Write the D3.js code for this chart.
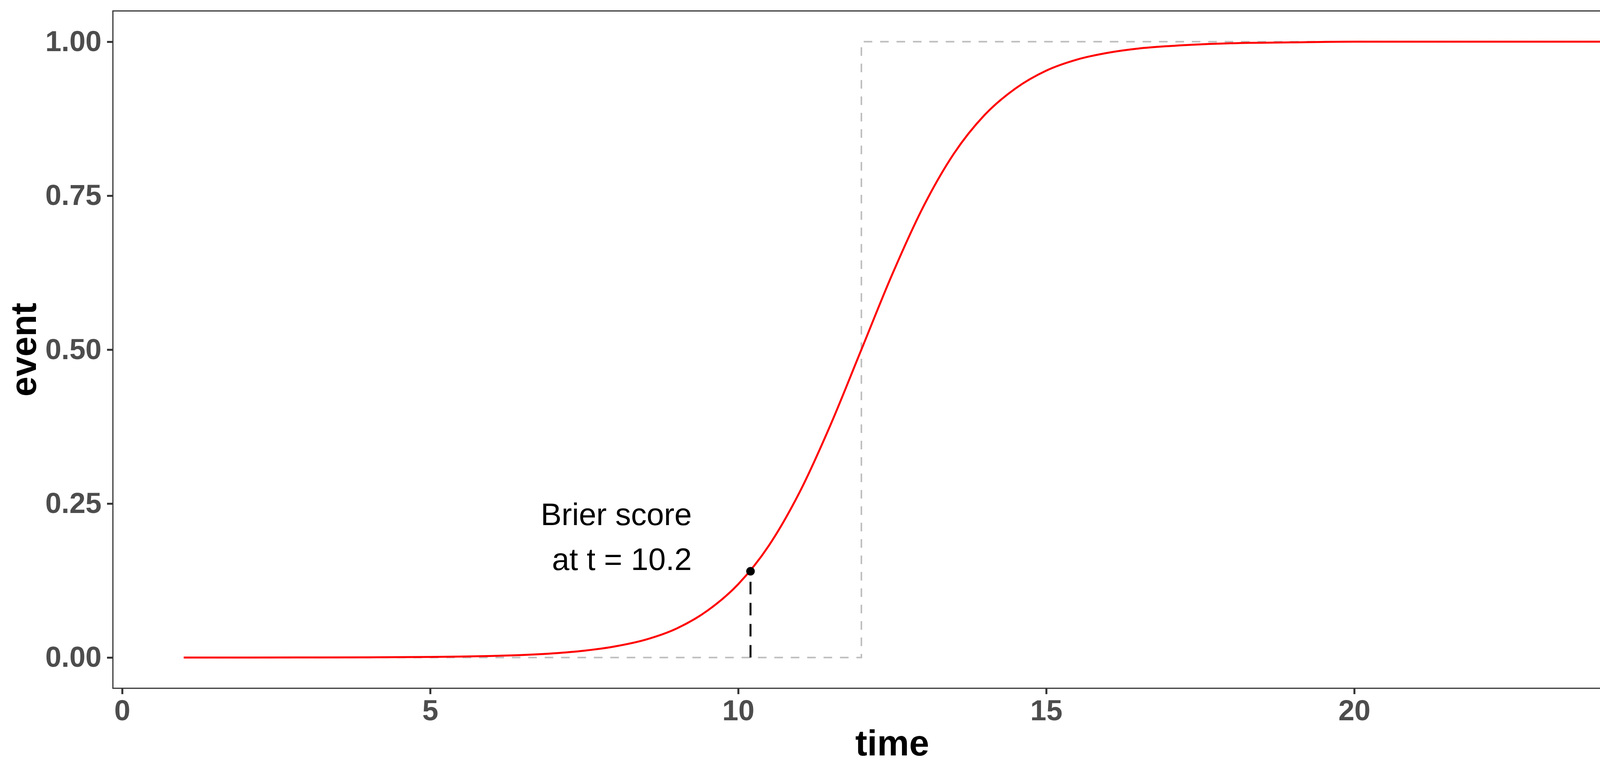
<!DOCTYPE html>
<html><head><meta charset="utf-8">
<script src="https://cdn.jsdelivr.net/npm/d3@7"></script>
<style>html,body{margin:0;padding:0;background:#fff;overflow:hidden;width:4320px;height:1980px}svg{display:block}</style>
</head><body>
<svg id="chart" width="4320" height="1980"></svg>
<script>
// predicted event probability
var times = [1,2,3,4,5,5.5,6,6.5,7,7.5,8,8.5,9,9.5,10,10.5,11,11.5,12,12.5,13,13.5,14,14.5,15,15.5,16,16.5,17,18,19,20,21,22,23,24];
var probs = [0,0,0.0001,0.0003,0.0009,0.0015,0.0025,0.004,0.0067,0.011,0.018,0.029,0.047,0.076,0.119,0.182,0.269,0.378,0.50,0.622,0.731,0.818,0.881,0.924,0.953,0.971,0.982,0.989,0.993,0.9975,0.999,1,1,1,1,1];
// observed status (step)
var obsT = [1,12,12,24];
var obsV = [0,0,1,1];
var markT = 10.2, markV = 0.14;
var xTicks = [0,5,10,15,20,25];
var yTicks = [0,0.25,0.5,0.75,1];

var svg = d3.select("#chart");
var L=289, R=4279, T=28, B=1763;
var x = d3.scaleLinear().domain([-0.15,25.15]).range([L,R]);
var y = d3.scaleLinear().domain([-0.05,1.05]).range([B,T]);
var font = "Liberation Sans, Arial, sans-serif";

// observed step
var obs = obsT.map(function(t,i){return [t,obsV[i]];});
svg.append("path").datum(obs)
  .attr("d", d3.line().x(function(d){return x(d[0]);}).y(function(d){return y(d[1]);}))
  .attr("fill","none").attr("stroke","#bebebe").attr("stroke-width",4).attr("stroke-dasharray","22,20");

// curve
var pts = times.map(function(t,i){return [t,probs[i]];});
svg.append("path").datum(pts)
  .attr("d", d3.line().curve(d3.curveMonotoneX).x(function(d){return x(d[0]);}).y(function(d){return y(d[1]);}))
  .attr("fill","none").attr("stroke","#ff0000").attr("stroke-width",5);

// marker
svg.append("line").attr("x1",x(markT)).attr("x2",x(markT)).attr("y1",y(0)).attr("y2",y(markV))
  .attr("stroke","#000").attr("stroke-width",5).attr("stroke-dasharray","32,22");
svg.append("circle").attr("cx",x(markT)).attr("cy",y(markV)).attr("r",11).attr("fill","#000");

var lab = svg.append("text").attr("text-anchor","end").attr("font-family",font)
  .attr("font-size",80).attr("fill","#000");
lab.append("tspan").attr("x",1771).attr("y",1345).text("Brier score");
lab.append("tspan").attr("x",1771).attr("y",1460).text("at t = 10.2");

// panel border
svg.append("rect").attr("x",L).attr("y",T).attr("width",R-L).attr("height",B-T)
  .attr("fill","none").attr("stroke","#333").attr("stroke-width",3);

// axes
var gx = svg.append("g").attr("transform","translate(0,"+B+")")
  .call(d3.axisBottom(x).tickValues(xTicks).tickSize(15).tickPadding(14).tickFormat(d3.format("d")));
var gy = svg.append("g").attr("transform","translate("+L+",0)")
  .call(d3.axisLeft(y).tickValues(yTicks).tickSize(15).tickPadding(14).tickFormat(d3.format(".2f")));
[gx,gy].forEach(function(g){
  g.select(".domain").remove();
  g.selectAll(".tick line").attr("stroke","#333").attr("stroke-width",5);
  g.selectAll(".tick text").attr("font-family",font)
    .attr("font-size",74).attr("font-weight","bold").attr("fill","#4d4d4d");
});

svg.append("text").attr("x",(L+R)/2).attr("y",1935).attr("text-anchor","middle")
  .attr("font-family",font).attr("font-size",92).attr("font-weight","bold").text("time");
svg.append("text").attr("transform","translate(92,"+((T+B)/2)+") rotate(-90)").attr("text-anchor","middle")
  .attr("font-family",font).attr("font-size",92).attr("font-weight","bold").text("event");
</script>
</body></html>
